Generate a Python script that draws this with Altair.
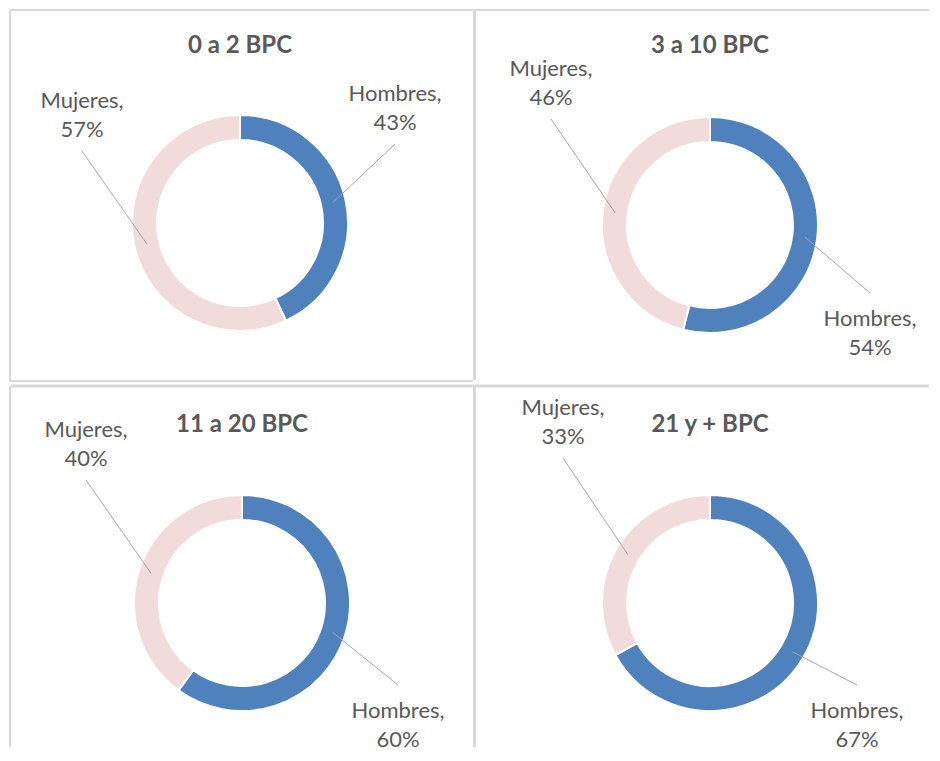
import altair as alt
import pandas as pd

# ---------------- data ----------------
PANELES = ["0 a 2 BPC", "3 a 10 BPC", "11 a 20 BPC", "21 y + BPC"]
SEXOS = ["Hombres", "Mujeres"]
HOMBRES = [43, 54, 60, 67]
MUJERES = [57, 46, 40, 33]

# ---------------- style / layout ----------------
COLOR_H = "#4f81bd"
COLOR_M = "#f2dcdb"
TEXT_COLOR = "#595959"
BORDER = "#d9d9d9"
LEADER = "#a6a6a6"
FONT = "Lato"
ANCHOS = [465, 459]          # column widths
ALTOS = [375, 364]           # row heights
CENTROS = [(232, 215), (237, 217), (234, 220), (237, 220)]  # donut centre in each panel
TITULO_Y = [45, 45, 49, 49]
# label offset (first baseline) from the donut centre, as placed in the original
ETIQ = {
    0: {"Hombres": (155, -122), "Mujeres": (-158, -115)},
    1: {"Hombres": (160, 101), "Mujeres": (-159, -149)},
    2: {"Hombres": (156, 115), "Mujeres": (-156, -166)},
    3: {"Hombres": (147, 115), "Mujeres": (-147, -188)},
}
R_OUT, R_IN = 108, 83
R_LEADER = 95.5

rows = []
for i, p in enumerate(PANELES):
    cx, cy = CENTROS[i]
    for orden, (s, v) in enumerate([("Hombres", HOMBRES[i]), ("Mujeres", MUJERES[i])]):
        dx, dy = ETIQ[i][s]
        rows.append(dict(panel=p, sexo=s, valor=v, orden=orden,
                         etiqueta=f"{s},\n{v}%", cx=cx, cy=cy, dx=dx, dy=dy))
df = pd.DataFrame(rows)
uno = pd.DataFrame({"a": [0]})


def regla(x, x2, y, y2, sw):
    enc = dict(x=alt.value(x), y=alt.value(y))
    if x2 is not None:
        enc["x2"] = alt.value(x2)
    if y2 is not None:
        enc["y2"] = alt.value(y2)
    return alt.Chart(uno).mark_rule(color=BORDER, strokeWidth=sw).encode(**enc)


def panel(i):
    p = PANELES[i]
    w = ANCHOS[i % 2]
    h = ALTOS[i // 2]
    cx, cy = CENTROS[i]
    base = alt.Chart(df).transform_filter(alt.datum.panel == p)

    arc = base.mark_arc(outerRadius=R_OUT, innerRadius=R_IN, stroke="white", strokeWidth=2).encode(
        theta=alt.Theta("valor:Q", stack=True, scale=alt.Scale(domain=[0, 100])),
        color=alt.Color("sexo:N", scale=alt.Scale(domain=SEXOS, range=[COLOR_H, COLOR_M]), legend=None),
        order=alt.Order("orden:Q"),
        x=alt.value(cx),
        y=alt.value(cy),
    )

    geo = base.transform_window(
        acum="sum(valor)", sort=[alt.SortField("orden")], frame=[None, 0]
    ).transform_calculate(
        mid="(datum.acum - datum.valor / 2) / 100 * 2 * PI",
        x1=f"datum.cx + {R_LEADER} * sin(datum.mid)",
        y1=f"datum.cy - {R_LEADER} * cos(datum.mid)",
        lx="datum.cx + datum.dx",
        ly="datum.cy + datum.dy",
        y2="datum.cy + datum.dy + (datum.dy < 0 ? 43 : -33)",
    )

    lineas = geo.mark_rule(color=LEADER, strokeWidth=1).encode(
        x=alt.X("x1:Q", scale=None, axis=None),
        y=alt.Y("y1:Q", scale=None, axis=None),
        x2="lx:Q",
        y2="y2:Q",
    )
    textos = geo.mark_text(font=FONT, fontSize=22, color=TEXT_COLOR, align="center",
                           baseline="alphabetic", lineBreak="\n", lineHeight=29).encode(
        x=alt.X("lx:Q", scale=None, axis=None),
        y=alt.Y("ly:Q", scale=None, axis=None),
        text="etiqueta:N",
    )
    titulo = alt.Chart(pd.DataFrame({"t": [p]})).mark_text(
        font=FONT, fontSize=24, fontWeight="bold", color=TEXT_COLOR,
        align="center", baseline="alphabetic").encode(
        text="t:N", x=alt.value(cx), y=alt.value(TITULO_Y[i]))

    col, fila = i % 2, i // 2
    # frame lines, kept inside each panel so they do not push the layout
    if fila == 0 and col == 0:
        capas = [regla(2, None, 2, h - 2, 2), regla(2, w, 2, None, 2), regla(2, w, h - 2, None, 2)]
    elif fila == 0:
        capas = [regla(1.5, None, 2, h - 3, 3), regla(0, w - 3, 2, None, 2)]
    elif col == 0:
        capas = [regla(2, None, 3, h, 2), regla(3, w, 3, None, 3)]
    else:
        capas = [regla(1.5, None, 3, h, 3), regla(0, w - 3, 3, None, 3)]
    capas += [arc, lineas, textos, titulo]
    return alt.layer(*capas).properties(width=w, height=h)


chart = alt.vconcat(
    alt.hconcat(panel(0), panel(1), spacing=0, bounds="flush"),
    alt.hconcat(panel(2), panel(3), spacing=0, bounds="flush"),
    spacing=0,
).properties(padding=0, background="white").configure_view(stroke=None)

chart.save("out.html", embed_options={"renderer": "svg", "actions": False})
